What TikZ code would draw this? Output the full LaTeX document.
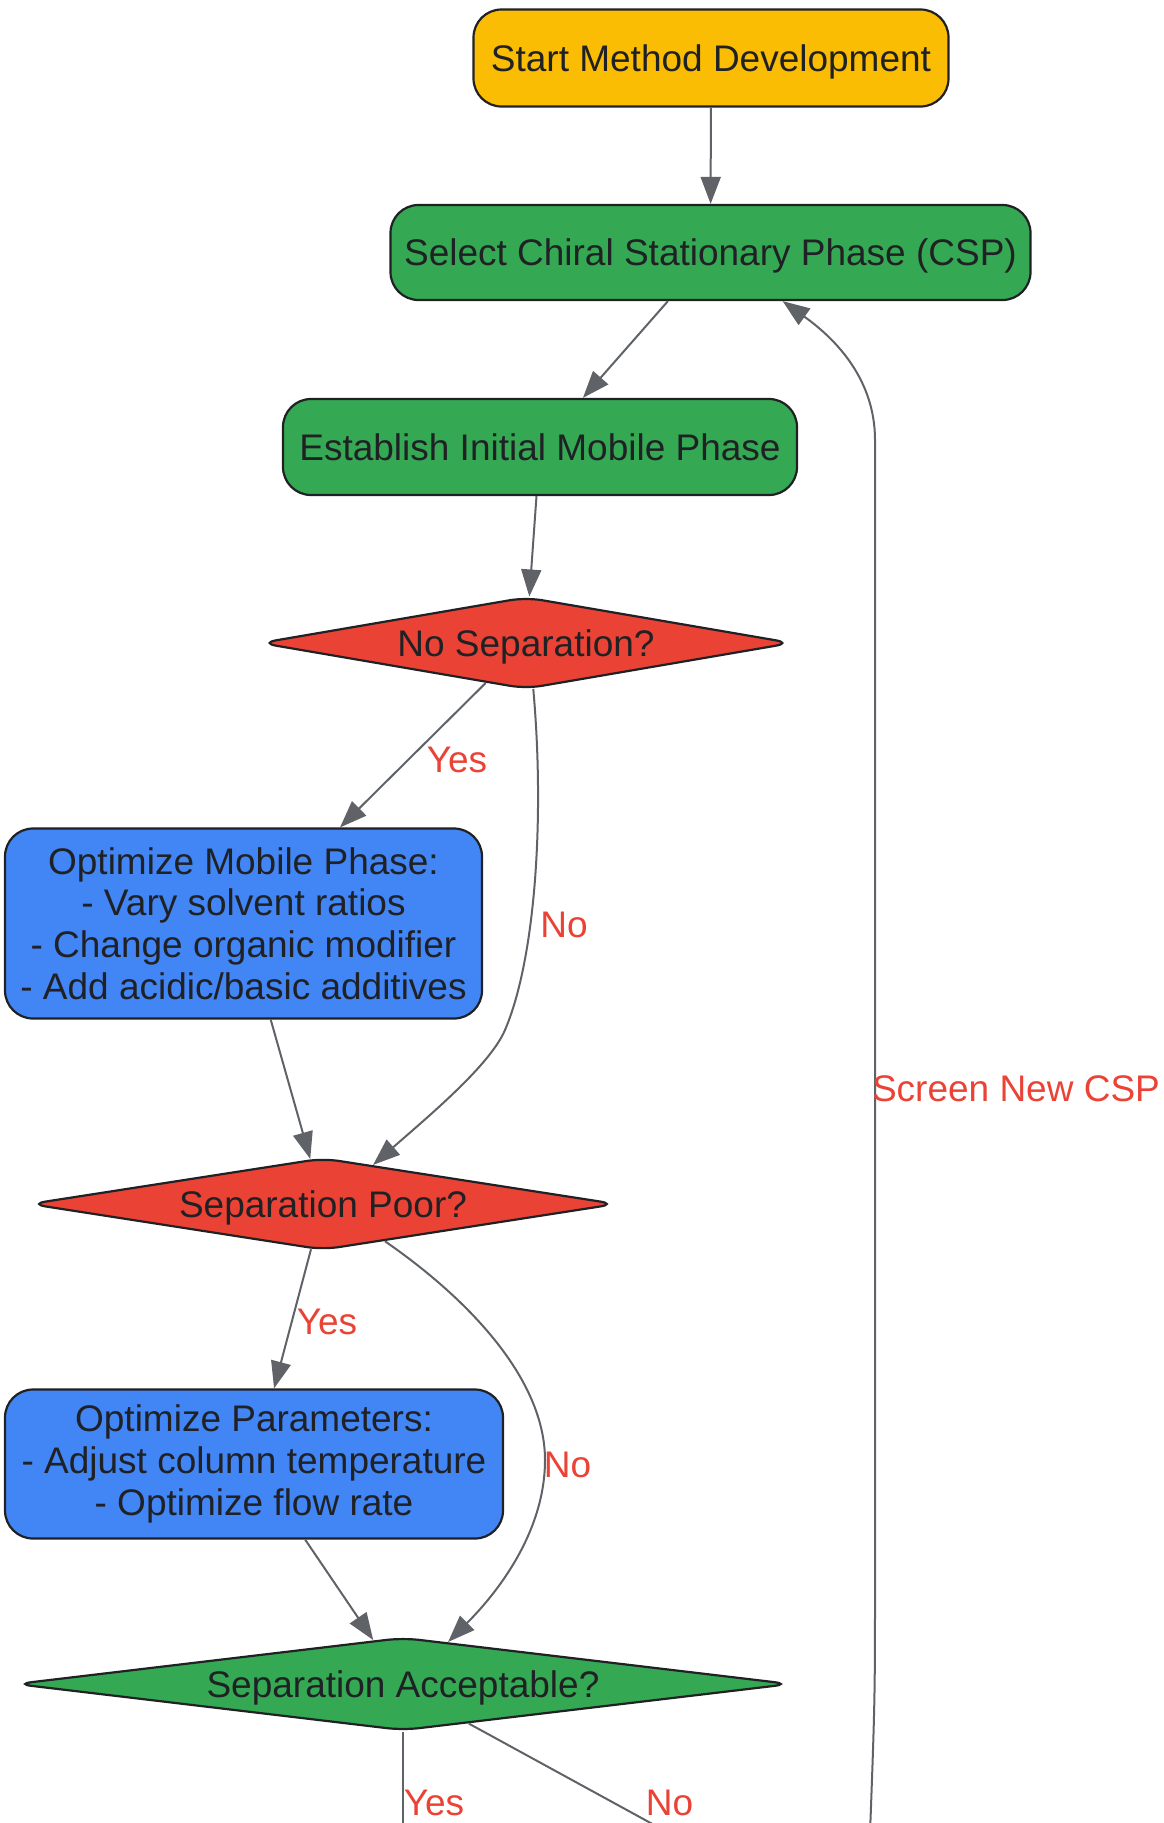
\documentclass[tikz,border=0pt]{standalone}
\usepackage{fontspec}
\setmainfont{Liberation Sans}
\usepackage{xcolor}
\usetikzlibrary{arrows.meta,shapes.geometric}

\definecolor{startyellow}{HTML}{FBBC04}
\definecolor{stepgreen}{HTML}{34A853}
\definecolor{askred}{HTML}{EA4335}
\definecolor{tuneblue}{HTML}{4285F4}
\definecolor{edgegray}{HTML}{5F6368}
\definecolor{inkdark}{HTML}{202124}

\tikzset{
  stepbox/.style={draw=inkdark, line width=2.2pt, rounded corners=28pt, align=center, inner sep=4pt, text=inkdark},
  oneline/.style={text height=28pt, text depth=1.7pt},
  askdia/.style={draw=inkdark, line width=2.2pt, diamond, aspect=7, inner sep=0pt, rounded corners=16pt, text=inkdark, oneline},
  flow/.style={edgegray, line width=2pt, -{Triangle[length=27pt,width=20pt]}},
  elabel/.style={text=askred, inner sep=0pt},
}

\begin{document}
\begin{tikzpicture}[x=1pt, y=-1pt, font=\fontsize{37}{41.7}\selectfont]
\useasboundingbox (0,0) rectangle (1163,1823);
\clip (0,0) rectangle (1163,1823);

% nodes
\node[stepbox, oneline, fill=startyellow, minimum width=475pt, minimum height=97pt] (start) at (711,58) {Start Method Development};
\node[stepbox, oneline, fill=stepgreen, minimum width=640pt, minimum height=95pt] (csp) at (710.5,252.5) {Select Chiral Stationary Phase (CSP)};
\node[stepbox, oneline, fill=stepgreen, minimum width=514pt, minimum height=96pt] (est) at (540,447) {Establish Initial Mobile Phase};
\node[askdia, fill=askred, minimum width=532pt, minimum height=92pt] (nosep) at (526,643) {No Separation?};
\node[stepbox, fill=tuneblue, minimum width=477pt, minimum height=190pt] (mob) at (243.5,923.5) {Optimize Mobile Phase:\\- Vary solvent ratios\\- Change organic modifier\\- Add acidic/basic additives};
\node[askdia, fill=askred, minimum width=587pt, minimum height=92pt] (poor) at (323,1204) {Separation Poor?};
\node[stepbox, fill=tuneblue, minimum width=498pt, minimum height=149pt] (par) at (254,1464) {Optimize Parameters:\\- Adjust column temperature\\- Optimize flow rate};
\node[askdia, fill=stepgreen, minimum width=775pt, minimum height=93pt] (acc) at (403,1684) {Separation Acceptable?};

% loose ends below the page
\coordinate (yesout) at (403,1900);
\coordinate (noout) at (700,1850);
\coordinate (retry) at (869,1860);

% connectors
\draw[flow] (start) -- (csp);
\draw[flow] (csp) -- (est);
\draw[flow] (est) -- (nosep);
\draw[flow] (nosep) -- (mob);
\draw[flow] (nosep.-81) .. controls (545,820) and (535,960) .. (505,1030) .. controls (490,1065) and (430,1115) .. (poor.38);
\draw[flow] (mob) -- (poor);
\draw[flow] (poor) -- (par);
\draw[flow] (poor.-31) .. controls (470,1300) and (545,1380) .. (545,1460) .. controls (545,1530) and (500,1590) .. (acc.43);
\draw[flow] (par) -- (acc);
\draw[flow] (acc.south) -- (yesout);
\draw[flow] (acc.-31) -- (noout);
\draw[flow] (retry) .. controls (875,1700) .. (875,1580) -- (875,440) .. controls (875,375) and (830,335) .. (csp.-34);

% edge labels
\node[elabel] (yes1) at (457,760) {Yes};
\node[elabel] (no1) at (564,925) {No};
\node[elabel] (yes2) at (327,1322) {Yes};
\node[elabel] (no2) at (567.5,1464.5) {No};
\node[elabel] (yes3) at (434,1802.5) {Yes};
\node[elabel] (no3) at (669.5,1802.5) {No};
\node[elabel] (screen) at (1016,1088.5) {Screen New CSP};
\end{tikzpicture}
\end{document}
